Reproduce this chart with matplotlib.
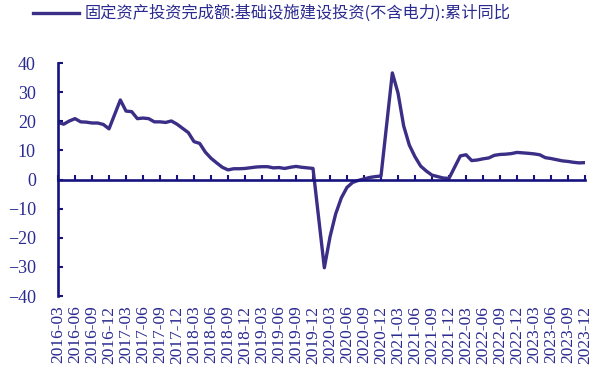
import matplotlib.pyplot as plt

# 基础设施建设投资(不含电力) 累计同比, %，每年1月无数据
dates_2016 = ["2016-03", "2016-04", "2016-05", "2016-06", "2016-07", "2016-08",
              "2016-09", "2016-10", "2016-11", "2016-12"]
vals_2016 = [19.6, 19.0, 20.1, 20.9, 19.8, 19.7, 19.4, 19.4, 18.9, 17.4]

months_rest = ["02", "03", "04", "05", "06", "07", "08", "09", "10", "11", "12"]
vals_2017 = [27.3, 23.5, 23.3, 20.9, 21.1, 20.9, 19.8, 19.8, 19.6, 20.1, 19.0]
vals_2018 = [16.1, 13.0, 12.4, 9.4, 7.3, 5.7, 4.2, 3.3, 3.7, 3.7, 3.8]
vals_2019 = [4.3, 4.4, 4.4, 4.0, 4.1, 3.8, 4.2, 4.5, 4.2, 4.0, 3.8]
vals_2020 = [-30.3, -19.7, -11.8, -6.3, -2.7, -1.0, -0.3, 0.2, 0.7, 1.0, 1.2]
vals_2021 = [36.6, 29.7, 18.4, 11.8, 7.8, 4.6, 2.9, 1.5, 1.0, 0.5, 0.4]
vals_2022 = [8.1, 8.5, 6.5, 6.7, 7.1, 7.4, 8.3, 8.6, 8.7, 8.9, 9.3]
vals_2023 = [9.0, 8.8, 8.5, 7.5, 7.2, 6.8, 6.4, 6.2, 5.9, 5.7, 5.8]

tick_labels = [f"{y}-{m}" for y in range(2016, 2024) for m in ("03", "06", "09", "12")]

dates = list(dates_2016)
values = list(vals_2016)
for year, vals in [(2017, vals_2017), (2018, vals_2018), (2019, vals_2019),
                   (2020, vals_2020), (2021, vals_2021), (2022, vals_2022),
                   (2023, vals_2023)]:
    dates += [f"{year}-{m}" for m in months_rest]
    values += vals


def month_index(s):
    y, m = s.split("-")
    return (int(y) - 2016) * 12 + int(m) - 3


x = [month_index(d) for d in dates]
tick_pos = [month_index(t) for t in tick_labels]

line_color = "#3A2E86"
axis_color = "#16137E"
text_color = "#2A2A90"

plt.rcParams["font.family"] = ["Liberation Serif", "DejaVu Sans"]

fig = plt.figure(figsize=(5.95, 3.78), dpi=100)
ax = fig.add_axes([0.0975, 0.2169, 0.8857, 0.6164])

line, = ax.plot(x, values, color=line_color, lw=2.4, solid_joinstyle="round",
                label="固定资产投资完成额:基础设施建设投资(不含电力):累计同比")

ax.set_xlim(0, 93)
ax.set_ylim(-40, 40)
ax.set_yticks(range(-40, 41, 10))
ax.set_xticks(tick_pos)

for side in ("top", "right"):
    ax.spines[side].set_visible(False)
ax.spines["bottom"].set_position(("data", 0))
for side in ("left", "bottom"):
    ax.spines[side].set_color(axis_color)
    ax.spines[side].set_linewidth(1.9)

ax.tick_params(axis="x", direction="in", length=3.8, width=1.5,
               color=axis_color, labelbottom=False)
ax.tick_params(axis="y", direction="in", length=3.8, width=1.5,
               color=axis_color, labelsize=13, labelcolor=text_color, pad=16)

# date labels sit under the plot, not on the zero line
sec = ax.secondary_xaxis(0.0)
sec.set_xticks(tick_pos, tick_labels, rotation=90)
sec.tick_params(length=0, pad=7, labelsize=12.5, labelcolor=text_color)
sec.spines["bottom"].set_visible(False)

fig.legend(handles=[line], loc="upper left", bbox_to_anchor=(33 / 595, 1 - 5 / 378),
           frameon=False, borderpad=0, borderaxespad=0, handlelength=2.8,
           handletextpad=0.35,
           prop={"family": ["Noto Sans CJK SC", "DejaVu Sans"], "size": 11.7},
           labelcolor=text_color)

fig.savefig("out.png", dpi=100)
